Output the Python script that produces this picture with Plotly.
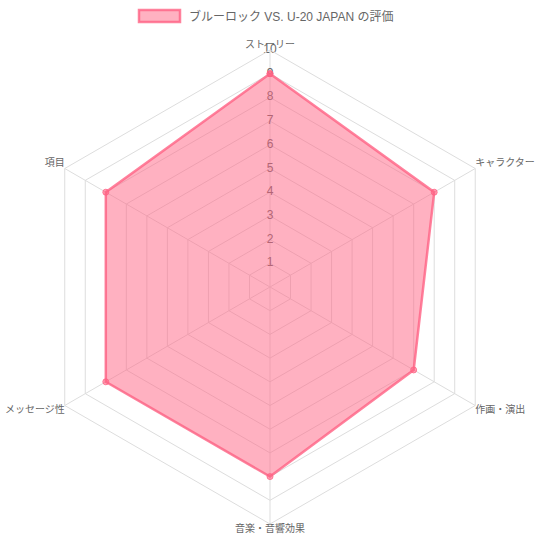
import plotly.graph_objects as go

categories = ["ストーリー", "キャラクター", "作画・演出", "音楽・音響効果", "メッセージ性", "項目"]
values = [9, 8, 7, 8, 8, 8]
series_name = "ブルーロック VS. U-20 JAPAN の評価"
tick_values = [1, 2, 3, 4, 5, 6, 7, 8, 9, 10]
tick_labels = [str(v) for v in tick_values]
label_positions = ["top center", "top right", "bottom right", "bottom center", "bottom left", "top left"]

FONT = "Liberation Sans, Arial, Noto Sans CJK JP, sans-serif"
GRID = "#dddddd"
R_MAX = 10

fig = go.Figure()

# category (point) labels, placed just outside the outer ring
fig.add_trace(go.Scatterpolar(
    r=[R_MAX] * len(categories),
    theta=categories,
    text=categories,
    mode="text",
    textposition=label_positions,
    textfont=dict(family=FONT, size=10, color="#666666"),
    showlegend=False,
    hoverinfo="skip",
    cliponaxis=False,
))

# radial tick labels drawn first so the fill overlays them (as in the reference)
fig.add_trace(go.Scatterpolar(
    r=tick_values,
    theta=[categories[0]] * len(tick_values),
    text=tick_labels,
    mode="text",
    textposition="middle center",
    textfont=dict(family=FONT, size=12, color="#666666"),
    showlegend=False,
    hoverinfo="skip",
    cliponaxis=False,
))

fig.add_trace(go.Scatterpolar(
    r=values + [values[0]],
    theta=categories + [categories[0]],
    name=series_name,
    mode="lines+markers",
    fill="toself",
    fillcolor="rgba(255,99,132,0.5)",
    line=dict(color="rgba(255,99,132,0.8)", width=2.5),
    marker=dict(size=6, color="rgba(255,99,132,0.6)",
                line=dict(color="rgba(255,99,132,0.8)", width=1)),
    showlegend=False,
))

# legend (Chart.js style box + label)
fig.add_shape(type="rect", xref="paper", yref="paper",
              x0=139 / 540, x1=180 / 540, y0=1 - 22 / 540, y1=1 - 10 / 540,
              fillcolor="rgba(255,99,132,0.5)",
              line=dict(color="rgba(255,99,132,0.8)", width=2.5))
fig.add_annotation(xref="paper", yref="paper", x=187 / 540, y=1 - 16 / 540,
                   xanchor="left", yanchor="middle", showarrow=False,
                   text=series_name,
                   font=dict(family=FONT, size=12, color="#666666"))

fig.update_layout(
    width=540, height=540,
    margin=dict(l=0, r=0, t=0, b=0),
    paper_bgcolor="white",
    font=dict(family=FONT, size=12, color="#666666"),
    showlegend=False,
    polar=dict(
        domain=dict(x=[33 / 540, 507 / 540], y=[16 / 540, 490 / 540]),
        bgcolor="white",
        gridshape="linear",
        radialaxis=dict(
            range=[0, R_MAX], dtick=1, tick0=0,
            showticklabels=False, ticks="",
            showline=False, gridcolor=GRID, gridwidth=1,
            angle=90,
        ),
        angularaxis=dict(
            direction="clockwise", rotation=90,
            showline=True, linecolor=GRID, linewidth=1,
            gridcolor=GRID, ticks="", showticklabels=False,
        ),
    ),
)

fig.write_html("out.html", config={"displayModeBar": False},
               post_script="document.body.style.margin='0px';")
